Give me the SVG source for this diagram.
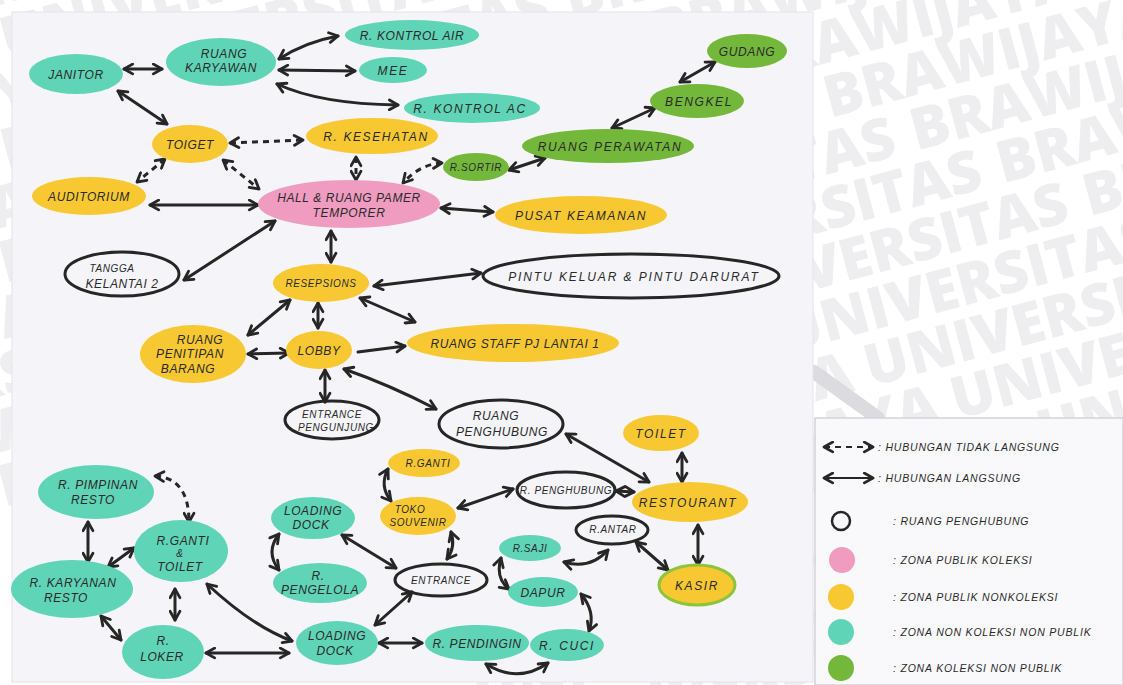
<svg xmlns="http://www.w3.org/2000/svg" width="1123" height="685" viewBox="0 0 1123 685">
  <style>
    .wm { font-family: "Open Sans", "DejaVu Sans", sans-serif; font-weight: 800; font-size: 58px; fill: #eeeef1; }
    .teal { fill: #60d4b7; }
    .yel { fill: #f8c832; }
    .grn { fill: #74b83b; }
    .pink { fill: #ef9cc0; }
    .ring { fill: none; stroke: #262626; stroke-width: 3; }
    .lbl { font-family: "Liberation Sans", Arial, sans-serif; font-style: italic; font-size: 12px; fill: #2a2a2a; text-anchor: middle; letter-spacing: 0.6px; }
    .sm { font-size: 10px; }
    .wide { letter-spacing: 1.6px; }
    .lg { font-family: "Liberation Sans", Arial, sans-serif; font-style: italic; font-size: 10.5px; fill: #2a2a2a; letter-spacing: 0.8px; }
    .c { fill: none; stroke: #262626; stroke-width: 3; stroke-linecap: round; marker-start: url(#ah); marker-end: url(#ah); }
    .d { stroke-dasharray: 6 5; stroke-linecap: butt; }
  </style>
  <defs>
    <marker id="ah" viewBox="0 0 12 12" refX="10" refY="6" markerWidth="13" markerHeight="13" markerUnits="userSpaceOnUse" orient="auto-start-reverse">
      <path d="M2,1.5 L10,6 L2,10.5" fill="none" stroke="#262626" stroke-width="2.6" stroke-linecap="round" stroke-linejoin="round"/>
    </marker>
  </defs>

  <!-- page background with faint repeated watermark lettering -->
  <rect x="0" y="0" width="1123" height="685" fill="#ffffff"/>
  <g transform="translate(830 118) rotate(-15)">
    <text class="wm" x="-468" y="-324" text-anchor="end">UNIVERSITAS BRAWIJAYA UNIVERSITAS</text><text class="wm" x="-450" y="-324">BRAWIJAYA UNIVERSITAS BRAWIJAYA</text>
    <text class="wm" x="-393" y="-270" text-anchor="end">UNIVERSITAS BRAWIJAYA UNIVERSITAS</text><text class="wm" x="-375" y="-270">BRAWIJAYA UNIVERSITAS BRAWIJAYA</text>
    <text class="wm" x="-318" y="-216" text-anchor="end">UNIVERSITAS BRAWIJAYA UNIVERSITAS</text><text class="wm" x="-300" y="-216">BRAWIJAYA UNIVERSITAS BRAWIJAYA</text>
    <text class="wm" x="-243" y="-162" text-anchor="end">UNIVERSITAS BRAWIJAYA UNIVERSITAS</text><text class="wm" x="-225" y="-162">BRAWIJAYA UNIVERSITAS BRAWIJAYA</text>
    <text class="wm" x="-168" y="-108" text-anchor="end">UNIVERSITAS BRAWIJAYA UNIVERSITAS</text><text class="wm" x="-150" y="-108">BRAWIJAYA UNIVERSITAS BRAWIJAYA</text>
    <text class="wm" x="-93" y="-54" text-anchor="end">UNIVERSITAS BRAWIJAYA UNIVERSITAS</text><text class="wm" x="-75" y="-54">BRAWIJAYA UNIVERSITAS BRAWIJAYA</text>
    <text class="wm" x="-18" y="0" text-anchor="end">UNIVERSITAS BRAWIJAYA UNIVERSITAS</text><text class="wm" x="0" y="0">BRAWIJAYA UNIVERSITAS BRAWIJAYA</text>
    <text class="wm" x="57" y="54" text-anchor="end">UNIVERSITAS BRAWIJAYA UNIVERSITAS</text><text class="wm" x="75" y="54">BRAWIJAYA UNIVERSITAS BRAWIJAYA</text>
    <text class="wm" x="132" y="108" text-anchor="end">UNIVERSITAS BRAWIJAYA UNIVERSITAS</text><text class="wm" x="150" y="108">BRAWIJAYA UNIVERSITAS BRAWIJAYA</text>
    <text class="wm" x="207" y="162" text-anchor="end">UNIVERSITAS BRAWIJAYA UNIVERSITAS</text><text class="wm" x="225" y="162">BRAWIJAYA UNIVERSITAS BRAWIJAYA</text>
    <text class="wm" x="282" y="216" text-anchor="end">UNIVERSITAS BRAWIJAYA UNIVERSITAS</text><text class="wm" x="300" y="216">BRAWIJAYA UNIVERSITAS BRAWIJAYA</text>
    <text class="wm" x="357" y="270" text-anchor="end">UNIVERSITAS BRAWIJAYA UNIVERSITAS</text><text class="wm" x="375" y="270">BRAWIJAYA UNIVERSITAS BRAWIJAYA</text>
    <text class="wm" x="432" y="324" text-anchor="end">UNIVERSITAS BRAWIJAYA UNIVERSITAS</text><text class="wm" x="450" y="324">BRAWIJAYA UNIVERSITAS BRAWIJAYA</text>
    <text class="wm" x="507" y="378" text-anchor="end">UNIVERSITAS BRAWIJAYA UNIVERSITAS</text><text class="wm" x="525" y="378">BRAWIJAYA UNIVERSITAS BRAWIJAYA</text>
    <text class="wm" x="582" y="432" text-anchor="end">UNIVERSITAS BRAWIJAYA UNIVERSITAS</text><text class="wm" x="600" y="432">BRAWIJAYA UNIVERSITAS BRAWIJAYA</text>
    <text class="wm" x="657" y="486" text-anchor="end">UNIVERSITAS BRAWIJAYA UNIVERSITAS</text><text class="wm" x="675" y="486">BRAWIJAYA UNIVERSITAS BRAWIJAYA</text>
    <text class="wm" x="732" y="540" text-anchor="end">UNIVERSITAS BRAWIJAYA UNIVERSITAS</text><text class="wm" x="750" y="540">BRAWIJAYA UNIVERSITAS BRAWIJAYA</text>
    <text class="wm" x="807" y="594" text-anchor="end">UNIVERSITAS BRAWIJAYA UNIVERSITAS</text><text class="wm" x="825" y="594">BRAWIJAYA UNIVERSITAS BRAWIJAYA</text>
    <text class="wm" x="882" y="648" text-anchor="end">UNIVERSITAS BRAWIJAYA UNIVERSITAS</text><text class="wm" x="900" y="648">BRAWIJAYA UNIVERSITAS BRAWIJAYA</text>
  </g>
  <path d="M814,372 L878,418" stroke="#dcdce0" stroke-width="14" stroke-linecap="round" fill="none"/>

  <!-- main sheet -->
  <rect x="12" y="12" width="801" height="670" fill="#f4f4f9" stroke="#e4e4ea" stroke-width="1"/>
  <!-- legend sheet -->
  <rect x="815" y="418" width="308" height="267" fill="#f9f9fc" stroke="#d2d2da" stroke-width="1.5"/>

  <!-- connectors -->
  <g id="connectors">
    <path class="c" d="M124,69 L162,69"/>
    <path class="c" d="M279,59 Q305,42 338,36"/>
    <path class="c" d="M279,70 L355,71"/>
    <path class="c" d="M277,84 Q320,104 398,105"/>
    <path class="c" d="M118,91 L167,124"/>
    <path class="c d" d="M230,143 L303,140"/>
    <path class="c d" d="M165,159 L137,182"/>
    <path class="c d" d="M223,160 L259,189"/>
    <path class="c d" d="M356,157 L356,180"/>
    <path class="c d" d="M442,163 Q420,164 403,183"/>
    <path class="c" d="M509,170 L545,158"/>
    <path class="c" d="M612,128 L655,108"/>
    <path class="c" d="M680,82 L715,62"/>
    <path class="c" d="M150,205 L258,205"/>
    <path class="c" d="M441,208 L493,212"/>
    <path class="c" d="M275,221 L184,280"/>
    <path class="c" d="M331,231 L331,262"/>
    <path class="c" d="M374,286 L481,273"/>
    <path class="c" d="M290,300 L248,335"/>
    <path class="c" d="M318,303 L318,328"/>
    <path class="c" d="M360,298 L415,322"/>
    <path class="c" d="M248,354 L289,353"/>
    <path class="c" style="marker-start:none" d="M358,352 L405,346"/>
    <path class="c" d="M325,370 L325,402"/>
    <path class="c" d="M344,369 Q390,385 436,409"/>
    <path class="c" d="M566,434 L649,482"/>
    <path class="c" d="M682,453 L682,482"/>
    <path class="c" d="M388,469 Q379,486 391,501"/>
    <path class="c" d="M458,508 L513,489"/>
    <path class="c" d="M616,491 L634,492"/>
    <path class="c" d="M698,525 L698,565"/>
    <path class="c" d="M636,542 L668,570"/>
    <path class="c" d="M564,562 Q590,570 608,550"/>
    <path class="c" d="M501,558 Q495,578 509,589"/>
    <path class="c" d="M451,532 Q456,547 447,559"/>
    <path class="c" d="M581,594 Q596,612 589,631"/>
    <path class="c" d="M486,664 Q518,684 548,663"/>
    <path class="c" d="M379,643 L422,643"/>
    <path class="c" d="M375,625 L412,592"/>
    <path class="c" d="M342,535 L396,568"/>
    <path class="c" d="M279,534 Q265,552 279,570"/>
    <path class="c" d="M207,584 Q252,626 292,641"/>
    <path class="c" d="M206,653 L289,653"/>
    <path class="c" d="M175,589 L175,620"/>
    <path class="c" d="M101,616 L121,640"/>
    <path class="c" d="M108,567 L134,548"/>
    <path class="c" d="M88,522 L88,562"/>
    <path class="c d" d="M155,476 Q189,478 189,522"/>
  </g>

  <!-- upper floor zone -->
  <g id="janitor"><ellipse class="teal" cx="76" cy="74" rx="47" ry="20"/><text class="lbl" x="76" y="79" font-size="13">JANITOR</text></g>
  <g id="ruang-karyawan"><ellipse class="teal" cx="221" cy="62" rx="55" ry="24"/><text class="lbl" x="224" y="58">RUANG</text><text class="lbl" x="221" y="72">KARYAWAN</text></g>
  <g id="r-kontrol-air"><ellipse class="teal" cx="412" cy="35" rx="67" ry="15"/><text class="lbl" x="412" y="40">R. KONTROL AIR</text></g>
  <g id="mee"><ellipse class="teal" cx="393" cy="70" rx="34" ry="13"/><text class="lbl wide" x="393" y="75">MEE</text></g>
  <g id="r-kontrol-ac"><ellipse class="teal" cx="472" cy="108" rx="68" ry="15"/><text class="lbl wide" x="470" y="113">R. KONTROL AC</text></g>
  <g id="toiget"><ellipse class="yel" cx="190" cy="144" rx="38" ry="19"/><text class="lbl" x="190" y="149">TOIGET</text></g>
  <g id="r-kesehatan"><ellipse class="yel" cx="372" cy="136" rx="66" ry="18"/><text class="lbl wide" x="376" y="141">R. KESEHATAN</text></g>
  <g id="r-sortir"><ellipse class="grn" cx="476" cy="167" rx="33" ry="14"/><text class="lbl sm" x="476" y="171">R.SORTIR</text></g>
  <g id="ruang-perawatan"><ellipse class="grn" cx="608" cy="146" rx="86" ry="17"/><text class="lbl wide" x="610" y="151">RUANG PERAWATAN</text></g>
  <g id="bengkel"><ellipse class="grn" cx="697" cy="101" rx="47" ry="17"/><text class="lbl wide" x="699" y="106">BENGKEL</text></g>
  <g id="gudang"><ellipse class="grn" cx="747" cy="51" rx="40" ry="17"/><text class="lbl" x="747" y="56">GUDANG</text></g>
  <g id="auditorium"><ellipse class="yel" cx="89" cy="196" rx="57" ry="19"/><text class="lbl" x="89" y="201">AUDITORIUM</text></g>
  <g id="hall"><ellipse class="pink" cx="349" cy="204" rx="91" ry="24"/><text class="lbl" x="349" y="202">HALL &amp; RUANG PAMER</text><text class="lbl" x="349" y="217">TEMPORER</text></g>
  <g id="pusat-keamanan"><ellipse class="yel" cx="581" cy="215" rx="86" ry="19"/><text class="lbl wide" x="581" y="220">PUSAT KEAMANAN</text></g>
  <g id="tangga"><ellipse class="ring" cx="122" cy="274" rx="57" ry="22"/><text class="lbl sm" x="112" y="272">TANGGA</text><text class="lbl" x="122" y="288">KELANTAI 2</text></g>
  <g id="resepsions"><ellipse class="yel" cx="321" cy="283" rx="48" ry="19"/><text class="lbl sm" x="321" y="287">RESEPSIONS</text></g>
  <g id="pintu-keluar"><ellipse class="ring" cx="631" cy="276" rx="148" ry="22"/><text class="lbl" x="634" y="281" style="letter-spacing:1.9px">PINTU KELUAR &amp; PINTU DARURAT</text></g>
  <g id="penitipan"><ellipse class="yel" cx="193" cy="354" rx="53" ry="29"/><text class="lbl" x="200" y="344">RUANG</text><text class="lbl" x="190" y="358">PENITIPAN</text><text class="lbl" x="188" y="373">BARANG</text></g>
  <g id="lobby"><ellipse class="yel" cx="319" cy="350" rx="33" ry="19"/><text class="lbl" x="319" y="355">LOBBY</text></g>
  <g id="ruang-staff"><ellipse class="yel" cx="513" cy="343" rx="106" ry="19"/><text class="lbl" x="515" y="348">RUANG STAFF PJ LANTAI 1</text></g>
  <g id="entrance-pengunjung"><ellipse class="ring" cx="332" cy="420" rx="47" ry="19"/><text class="lbl sm" x="332" y="418">ENTRANCE</text><text class="lbl sm" x="336" y="431">PENGUNJUNG</text></g>
  <g id="ruang-penghubung"><ellipse class="ring" cx="501" cy="424" rx="62" ry="24"/><text class="lbl" x="496" y="420">RUANG</text><text class="lbl" x="502" y="436">PENGHUBUNG</text></g>

  <!-- restaurant zone -->
  <g id="toilet"><ellipse class="yel" cx="661" cy="433" rx="38" ry="18"/><text class="lbl wide" x="661" y="438">TOILET</text></g>
  <g id="r-ganti"><ellipse class="yel" cx="424" cy="463" rx="36" ry="14"/><text class="lbl sm" x="428" y="467">R.GANTI</text></g>
  <g id="toko-souvenir"><ellipse class="yel" cx="418" cy="516" rx="38" ry="19"/><text class="lbl sm" x="410" y="513">TOKO</text><text class="lbl sm" x="418" y="526">SOUVENIR</text></g>
  <g id="r-penghubung"><ellipse class="ring" cx="566" cy="490" rx="49" ry="18"/><text class="lbl sm" x="566" y="494">R. PENGHUBUNG</text></g>
  <g id="restourant"><ellipse class="yel" cx="690" cy="502" rx="58" ry="20"/><text class="lbl wide" x="688" y="507">RESTOURANT</text></g>
  <g id="r-antar"><ellipse class="ring" cx="612" cy="530" rx="36" ry="14"/><text class="lbl sm" x="613" y="533">R.ANTAR</text></g>
  <g id="kasir"><ellipse class="yel" cx="697" cy="585" rx="38" ry="20" stroke="#8cc43c" stroke-width="3"/><text class="lbl wide" x="697" y="590">KASIR</text></g>
  <g id="r-saji"><ellipse class="teal" cx="530" cy="548" rx="31" ry="13"/><text class="lbl sm" x="530" y="552">R.SAJI</text></g>
  <g id="dapur"><ellipse class="teal" cx="543" cy="592" rx="35" ry="15"/><text class="lbl" x="543" y="597">DAPUR</text></g>
  <g id="entrance"><ellipse class="ring" cx="441" cy="580" rx="46" ry="16"/><text class="lbl sm" x="441" y="584">ENTRANCE</text></g>
  <g id="r-pendingin"><ellipse class="teal" cx="477" cy="643" rx="52" ry="18"/><text class="lbl" x="477" y="648">R. PENDINGIN</text></g>
  <g id="r-cuci"><ellipse class="teal" cx="567" cy="645" rx="37" ry="16"/><text class="lbl wide" x="567" y="650">R. CUCI</text></g>
  <g id="loading-dock-1"><ellipse class="teal" cx="313" cy="518" rx="42" ry="21"/><text class="lbl" x="313" y="515">LOADING</text><text class="lbl" x="311" y="529">DOCK</text></g>
  <g id="r-pengelola"><ellipse class="teal" cx="320" cy="583" rx="47" ry="20"/><text class="lbl" x="318" y="580">R.</text><text class="lbl" x="320" y="594">PENGELOLA</text></g>
  <g id="loading-dock-2"><ellipse class="teal" cx="337" cy="643" rx="41" ry="22"/><text class="lbl" x="337" y="640">LOADING</text><text class="lbl" x="335" y="655">DOCK</text></g>
  <g id="r-pimpinan-resto"><ellipse class="teal" cx="96" cy="492" rx="58" ry="27"/><text class="lbl" x="98" y="489">R. PIMPINAN</text><text class="lbl" x="93" y="504">RESTO</text></g>
  <g id="r-ganti-toilet"><ellipse class="teal" cx="181" cy="551" rx="47" ry="31"/><text class="lbl" x="183" y="545">R.GANTI</text><text class="lbl sm" x="180" y="557">&amp;</text><text class="lbl" x="180" y="571">TOILET</text></g>
  <g id="r-karyawan-resto"><ellipse class="teal" cx="72" cy="589" rx="61" ry="29"/><text class="lbl" x="73" y="587">R. KARYANAN</text><text class="lbl" x="66" y="602">RESTO</text></g>
  <g id="r-loker"><ellipse class="teal" cx="163" cy="652" rx="41" ry="27"/><text class="lbl" x="163" y="645">R.</text><text class="lbl" x="162" y="661">LOKER</text></g>

  <!-- legend -->
  <g id="legend">
    <path class="c d" d="M824,447 L873,447" style="stroke-width:2.2"/>
    <text class="lg" x="878" y="451">: HUBUNGAN TIDAK LANGSUNG</text>
    <path class="c" d="M824,478 L873,478" style="stroke-width:2.2"/>
    <text class="lg" x="878" y="482">: HUBUNGAN LANGSUNG</text>
    <circle cx="841" cy="521" r="9" fill="none" stroke="#262626" stroke-width="2.5"/>
    <text class="lg" x="893" y="525">: RUANG PENGHUBUNG</text>
    <circle class="pink" cx="842" cy="560" r="13"/>
    <text class="lg" x="893" y="564">: ZONA PUBLIK KOLEKSI</text>
    <circle class="yel" cx="841" cy="597" r="13"/>
    <text class="lg" x="893" y="601">: ZONA PUBLIK NONKOLEKSI</text>
    <circle class="teal" cx="841" cy="632" r="13"/>
    <text class="lg" x="893" y="636">: ZONA NON KOLEKSI NON PUBLIK</text>
    <circle class="grn" cx="841" cy="668" r="13"/>
    <text class="lg" x="893" y="672">: ZONA KOLEKSI NON PUBLIK</text>
  </g>
</svg>
